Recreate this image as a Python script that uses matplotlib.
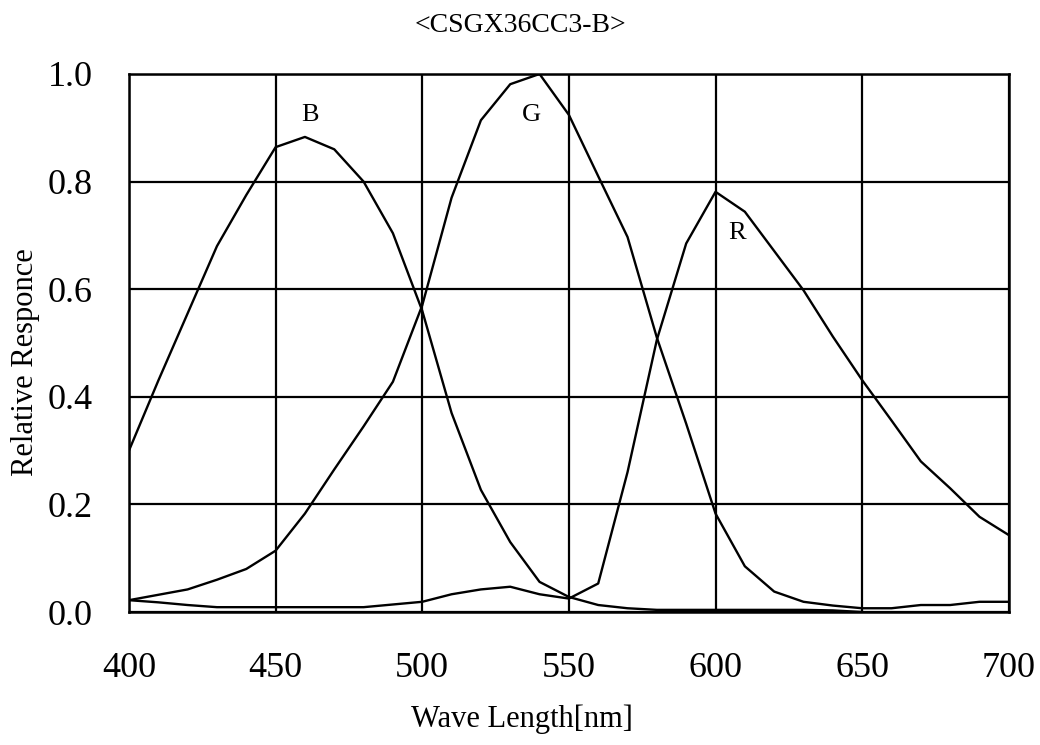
import numpy as np
import matplotlib
matplotlib.use("Agg")
import matplotlib.pyplot as plt

plt.rcParams['font.family'] = ['Liberation Serif', 'DejaVu Serif']

# wavelength samples [nm]
wave = list(range(400, 701, 10))

# relative response
resp_b = [0.30, 0.43, 0.555, 0.68, 0.775, 0.864, 0.883, 0.86, 0.80, 0.704,
          0.56, 0.37, 0.227, 0.13, 0.056, 0.028, 0.013, 0.007, 0.004, 0.004,
          0.004, 0.004, 0.004, 0.004, 0.003, 0.0,
          np.nan, np.nan, np.nan, np.nan, np.nan]
resp_g = [0.022, 0.032, 0.042, 0.06, 0.08, 0.114, 0.183, 0.265, 0.345, 0.428,
          0.57, 0.77, 0.914, 0.981, 1.0, 0.924, 0.81, 0.697, 0.51, 0.35,
          0.183, 0.085, 0.038, 0.019, 0.012, 0.007, 0.007, 0.013, 0.013, 0.019,
          0.019]
resp_r = [0.022, 0.018, 0.013, 0.009, 0.009, 0.009, 0.009, 0.009, 0.009, 0.014,
          0.019, 0.033, 0.042, 0.047, 0.033, 0.025, 0.053, 0.26, 0.506, 0.685,
          0.781, 0.744, 0.671, 0.598, 0.512, 0.431, 0.356, 0.28, 0.23, 0.177,
          0.143]

curve_names = ['B', 'G', 'R']
label_pos = [(461.7, 0.924), (537.4, 0.924), (607.3, 0.704)]

title = '<CSGX36CC3-B>'
xticks = [400, 450, 500, 550, 600, 650, 700]
yticks = [0.0, 0.2, 0.4, 0.6, 0.8, 1.0]

fig = plt.figure(figsize=(10.4, 7.45), dpi=100)
ax = fig.add_axes([0.124, 0.1785, 0.846, 0.7222])

for vals in (resp_b, resp_g, resp_r):
    ax.plot(wave, vals, color='black', lw=1.7, zorder=3)

for name, (x, y) in zip(curve_names, label_pos):
    ax.text(x, y, name, fontsize=19, ha='center', va='center')

ax.set_xlim(400, 700)
ax.set_ylim(0, 1.0)
ax.set_xticks(xticks)
ax.set_yticks(yticks)
ax.set_yticklabels(['%.1f' % v for v in yticks])
ax.grid(True, color='black', lw=1.6)
ax.set_axisbelow(True)
for s in ax.spines.values():
    s.set_linewidth(1.8)

ax.tick_params(axis='both', length=0, labelsize=26)
ax.tick_params(axis='x', pad=29)
ax.tick_params(axis='y', pad=26)

ax.set_xlabel('Wave Length[nm]', fontsize=22)
ax.xaxis.set_label_coords(0.447, -0.172)
ax.set_ylabel('Relative Responce', fontsize=22)
ax.yaxis.set_label_coords(-0.101, 0.465)
fig.text(0.5, 0.966, title, fontsize=20, ha='center', va='center')

fig.savefig('out.png', dpi=100)
